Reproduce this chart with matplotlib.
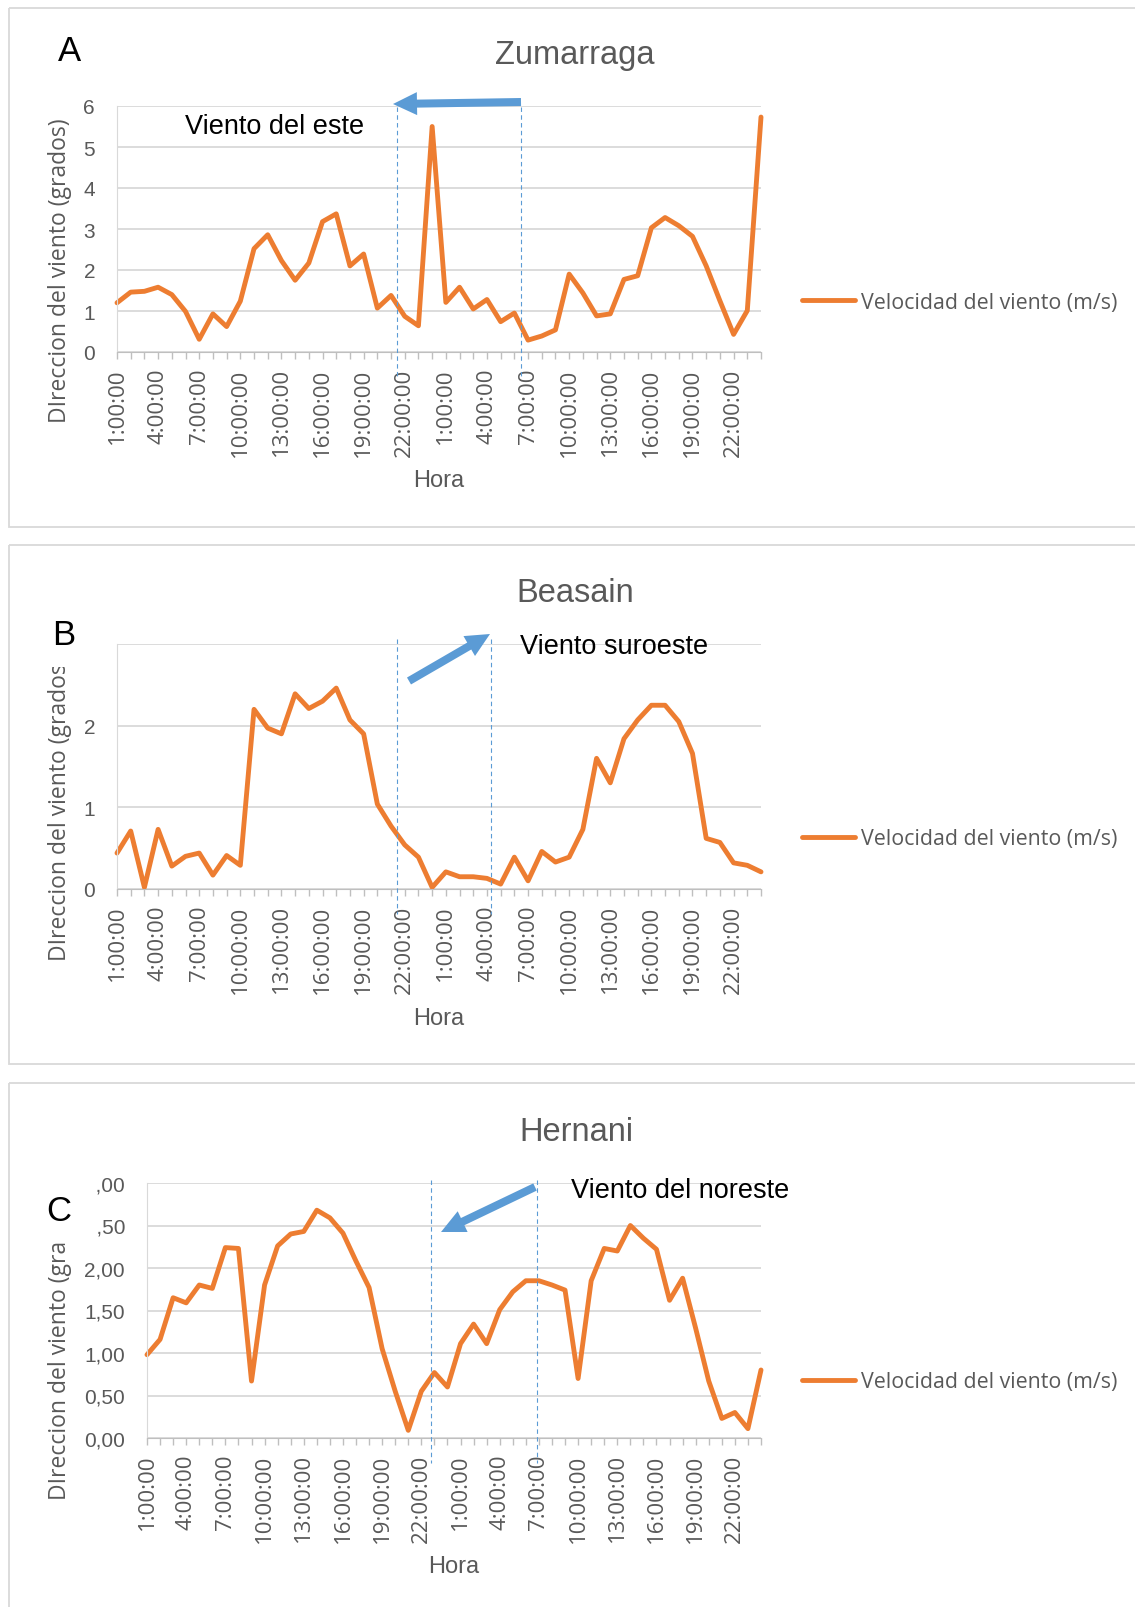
#!/usr/bin/env python3
"""
plot.py

Wind speed at three stations (Zumarraga, Beasain, Hernani) over two days,
with the hand-drawn wind direction arrows of the original figure.
"""

import matplotlib
matplotlib.use("Agg")
import matplotlib.pyplot as plt
from matplotlib.patches import Rectangle, FancyArrow
from matplotlib.ticker import MultipleLocator, FuncFormatter

# --- data ----------------------------------------------------------------
hora_labels = ["1:00:00", "4:00:00", "7:00:00", "10:00:00", "13:00:00",
               "16:00:00", "19:00:00", "22:00:00",
               "1:00:00", "4:00:00", "7:00:00", "10:00:00", "13:00:00",
               "16:00:00", "19:00:00", "22:00:00"]

zumarraga = [1.20, 1.46, 1.48, 1.58, 1.40, 0.99, 0.31, 0.93, 0.62, 1.24,
             2.52, 2.86, 2.23, 1.75, 2.17, 3.18, 3.37, 2.10, 2.39, 1.07,
             1.38, 0.87, 0.64, 5.50, 1.21, 1.58, 1.05, 1.28, 0.74, 0.95,
             0.29, 0.39, 0.54, 1.90, 1.44, 0.88, 0.93, 1.77, 1.86, 3.03,
             3.28, 3.08, 2.82, 2.10, 1.25, 0.43, 1.01, 5.73]

beasain = [0.44, 0.71, 0.02, 0.73, 0.28, 0.40, 0.44, 0.17, 0.41, 0.29,
           2.20, 1.97, 1.90, 2.39, 2.21, 2.30, 2.46, 2.07, 1.90, 1.04,
           0.77, 0.54, 0.39, 0.02, 0.21, 0.15, 0.15, 0.13, 0.06, 0.39,
           0.10, 0.46, 0.33, 0.39, 0.73, 1.60, 1.30, 1.84, 2.07, 2.25,
           2.25, 2.05, 1.66, 0.62, 0.57, 0.32, 0.29, 0.21]

hernani = [0.98, 1.16, 1.65, 1.59, 1.80, 1.76, 2.24, 2.23, 0.67, 1.80,
           2.26, 2.40, 2.43, 2.68, 2.59, 2.41, 2.08, 1.77, 1.05, 0.55,
           0.09, 0.55, 0.77, 0.60, 1.11, 1.34, 1.11, 1.51, 1.72, 1.85,
           1.85, 1.80, 1.74, 0.70, 1.85, 2.23, 2.20, 2.50, 2.35, 2.22,
           1.62, 1.88, 1.29, 0.67, 0.23, 0.30, 0.11, 0.80]

serie_label = "Velocidad del viento (m/s)"
ylabel_text = "DIreccion del viento (grados)"

# --- style ---------------------------------------------------------------
W, H = 1135, 1608
GRAY_TXT = "#595959"
GRID = "#D9D9D9"
AXIS = "#BFBFBF"
ORANGE = "#ED7D31"
BLUE = "#5B9BD5"
SEGOE = "Open Sans"

plt.rcParams["font.family"] = ["Liberation Sans", "DejaVu Sans"]


def rect_px(left, top, right, bottom):
    return [left / W, 1 - bottom / H, (right - left) / W, (bottom - top) / H]


def fmt_int(v, pos):
    return f"{v:.0f}"


def fmt_comma(v, pos):
    return f"{v:.2f}".replace(".", ",")


def draw_panel(fig, ov, values, rect, ymax, ystep, fmt, ylab_xy, hora_xy, leg_y):
    ax = fig.add_axes(rect_px(*rect))
    x = list(range(len(values)))
    ax.plot(x, values, color=ORANGE, lw=3.5, label=serie_label,
            solid_joinstyle="round", solid_capstyle="round", clip_on=False)
    ax.set_xlim(0, len(values) - 1)
    ax.set_ylim(0, ymax)

    ax.yaxis.set_major_locator(MultipleLocator(ystep))
    ax.yaxis.set_major_formatter(FuncFormatter(fmt))
    ax.grid(axis="y", color=GRID, lw=1.3)
    ax.set_axisbelow(True)

    ax.set_xticks(range(0, len(values), 3))
    ax.set_xticklabels(hora_labels, rotation=90, fontfamily=SEGOE)
    ax.set_xticks(x, minor=True)
    ax.tick_params(axis="x", which="both", length=5, width=1, color=AXIS,
                   labelsize=16, labelcolor=GRAY_TXT, pad=6)
    ax.tick_params(axis="y", length=0, labelsize=15, labelcolor=GRAY_TXT, pad=15.8)

    for side in ("top", "right"):
        ax.spines[side].set_visible(False)
    ax.spines["left"].set_color(GRID)
    ax.spines["bottom"].set_color(AXIS)

    ax.set_ylabel(ylabel_text, fontsize=16.5, color=GRAY_TXT, fontfamily=SEGOE)
    ax.yaxis.set_label_coords(*ylab_xy, transform=ov.transData)
    ax.yaxis.label.set_va("center")

    ax.set_xlabel("Hora", fontsize=17, color=GRAY_TXT)
    ax.xaxis.set_label_coords(*hora_xy, transform=ov.transData)
    ax.xaxis.label.set_va("baseline")

    leg = ax.legend(loc="center left", bbox_to_anchor=(802 / W, 1 - leg_y / H),
                    bbox_transform=fig.transFigure, frameon=False,
                    borderpad=0, borderaxespad=0, handlelength=2.5,
                    handletextpad=0.25, prop={"family": SEGOE, "size": 15.4})
    for t in leg.get_texts():
        t.set_color(GRAY_TXT)
    return ax


def arrow(ov, x0, y0, x1, y1):
    ov.add_patch(FancyArrow(x0, y0, x1 - x0, y1 - y0, width=8, head_width=23,
                            head_length=24, length_includes_head=True,
                            color=BLUE, lw=0, zorder=4))


def dashed(ov, x, y0, y1):
    ov.plot([x, x], [y0, y1], color=BLUE, lw=0.8, ls=(0, (4, 3)), zorder=4)


fig = plt.figure(figsize=(W / 100, H / 100), dpi=100)

# overlay in pixel coordinates for frames, arrows and free text
ov = fig.add_axes([0, 0, 1, 1], zorder=10)
ov.set_xlim(0, W)
ov.set_ylim(H, 0)
ov.axis("off")
ov.patch.set_alpha(0)

# chart frames
for top, height in [(9, 519), (546, 519), (1084, 540)]:
    ov.add_patch(Rectangle((9, top), 1140, height, fill=False, ec=GRID,
                           lw=1.3, clip_on=False, zorder=1))

# A - Zumarraga
draw_panel(fig, ov, zumarraga, (117, 107, 761, 353), 6, 1, fmt_int,
           (60, 271), (439, 487), 303)
ov.text(575, 64, "Zumarraga", fontsize=23.5, color=GRAY_TXT, ha="center", va="baseline")
ov.text(69, 61, "A", fontsize=25, color="black", ha="center", va="baseline", zorder=3)
ov.text(185, 134.5, "Viento del este", fontsize=19.5, color="black", va="baseline")
dashed(ov, 397, 108, 378)
dashed(ov, 521, 108, 378)
arrow(ov, 521, 103, 393, 105)

# B - Beasain
draw_panel(fig, ov, beasain, (117, 645, 761, 890), 3, 1, fmt_int,
           (60, 809), (439, 1025), 840)
ov.text(575, 602, "Beasain", fontsize=23.5, color=GRAY_TXT, ha="center", va="baseline")
ov.add_patch(Rectangle((38, 598), 64, 70, fc="white", ec="none", zorder=2))
ov.text(64, 645, "B", fontsize=25, color="black", ha="center", va="baseline", zorder=3)
ov.text(520, 654, "Viento suroeste", fontsize=19.5, color="black", va="baseline")
dashed(ov, 397, 640, 915)
dashed(ov, 491, 640, 915)
arrow(ov, 409, 682, 490, 635)

# C - Hernani
draw_panel(fig, ov, hernani, (147, 1184, 761, 1439), 3, 0.5, fmt_comma,
           (60, 1348), (454, 1573), 1383)
ov.text(576, 1141, "Hernani", fontsize=23.5, color=GRAY_TXT, ha="center", va="baseline")
ov.add_patch(Rectangle((38, 1160), 58, 82, fc="white", ec="none", zorder=2))
ov.text(59, 1221, "C", fontsize=25, color="black", ha="center", va="baseline", zorder=3)
ov.text(571, 1198, "Viento del noreste", fontsize=19.5, color="black", va="baseline")
dashed(ov, 431, 1181, 1464)
dashed(ov, 537, 1181, 1464)
arrow(ov, 535, 1188, 441, 1233)

fig.savefig("out.png", dpi=100)
